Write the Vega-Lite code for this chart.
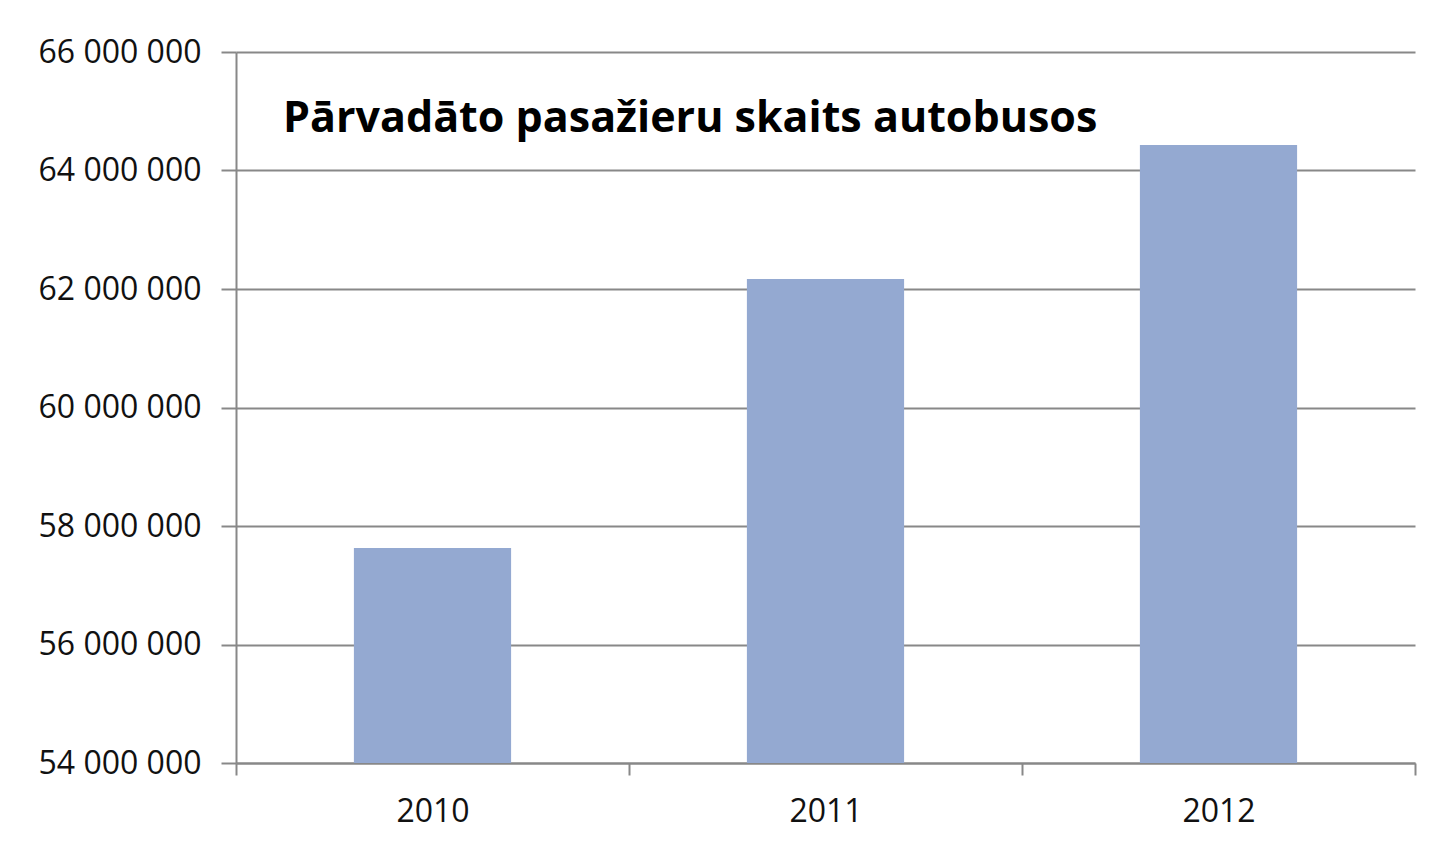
{
  "$schema": "https://vega.github.io/schema/vega-lite/v6.json",
  "autosize": {"type": "none"},
  "width": 1179,
  "height": 711,
  "padding": {"left": 236, "top": 52, "right": 28, "bottom": 90},
  "background": "white",
  "title": {
    "text": "Pārvadāto pasažieru skaits autobusos",
    "anchor": "start",
    "frame": "group",
    "orient": "top",
    "offset": 0,
    "dx": 47,
    "dy": 139,
    "baseline": "alphabetic",
    "font": "Open Sans",
    "fontSize": 43,
    "fontWeight": "bold",
    "color": "#000000"
  },
  "data": {
    "values": [
      {"year": "2010", "passengers": 57630000},
      {"year": "2011", "passengers": 62170000},
      {"year": "2012", "passengers": 64430000}
    ]
  },
  "mark": {"type": "bar", "color": "#94A9D1", "clip": true, "width": {"band": 0.4}},
  "encoding": {
    "x": {
      "field": "year",
      "type": "nominal",
      "scale": {"paddingInner": 0, "paddingOuter": 0},
      "axis": {
        "title": null,
        "labelAngle": 0,
        "labelFont": "Open Sans",
        "labelFontSize": 32,
        "labelColor": "#111111",
        "labelPadding": 21,
        "domainColor": "#888888",
        "domainWidth": 2,
        "tickColor": "#888888",
        "tickWidth": 2,
        "tickSize": 12,
        "tickBand": "extent",
        "grid": false
      }
    },
    "y": {
      "field": "passengers",
      "type": "quantitative",
      "scale": {"domain": [54000000, 66000000], "zero": false, "nice": false},
      "axis": {
        "title": null,
        "values": [54000000, 56000000, 58000000, 60000000, 62000000, 64000000, 66000000],
        "labelExpr": "replace(format(datum.value, ','), /,/g, ' ')",
        "labelFont": "Open Sans",
        "labelFontSize": 32,
        "labelColor": "#111111",
        "labelPadding": 20,
        "domainColor": "#888888",
        "domainWidth": 2,
        "tickColor": "#888888",
        "tickWidth": 2,
        "tickSize": 15,
        "grid": true,
        "gridColor": "#888888",
        "gridWidth": 2
      }
    }
  },
  "config": {
    "view": {"stroke": null}
  }
}
